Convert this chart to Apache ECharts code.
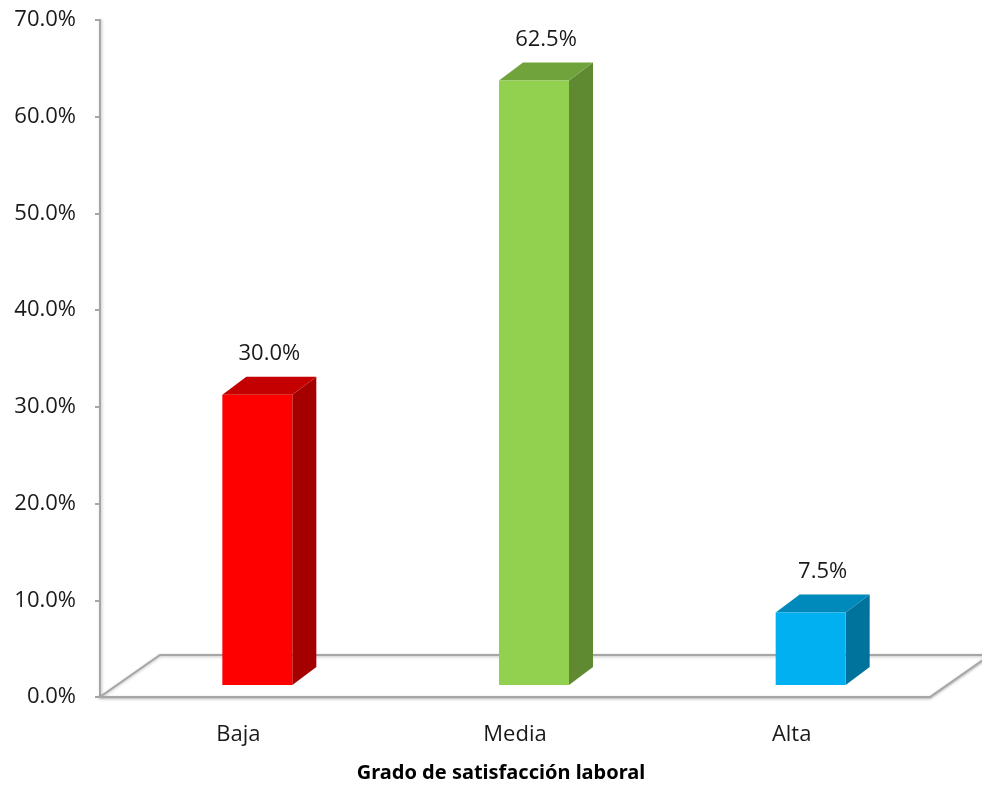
<!DOCTYPE html>
<html>
<head>
<meta charset="utf-8">
<script src="https://cdn.jsdelivr.net/npm/echarts@6/dist/echarts.min.js"></script>
<style>
  html, body { margin: 0; padding: 0; background: #fff; }
  #chart { width: 982px; height: 788px; }
</style>
</head>
<body>
<div id="chart"></div>
<script>
// datos
var categorias = ['Baja', 'Media', 'Alta'];
var valores = [30.0, 62.5, 7.5];
var ticksY = [0, 10, 20, 30, 40, 50, 60, 70];

// colores de cada barra: frente, lado, tapa
var colFrente = ['#ff0000', '#92d050', '#00b0f0'];
var colLado = ['#a50000', '#5f8a32', '#00739c'];
var colTapa = ['#c40000', '#70a33c', '#0089bb'];

var chart = echarts.init(document.getElementById('chart'));

var FONDO_DX = 60, FONDO_DY = -42;   // profundidad del piso
var BAR_DX = 24, BAR_DY = -18;       // profundidad de la barra
var OFF_X = 19, OFF_Y = -12;         // desplazamiento de la barra sobre el piso
var ANCHO = 70;

function piso(params, api) {
  var cs = params.coordSys;
  var x0 = cs.x, x1 = cs.x + cs.width, y0 = cs.y + cs.height;
  return {
    type: 'polygon',
    z2: 0,
    shape: { points: [[x0, y0], [x1, y0], [x1 + FONDO_DX, y0 + FONDO_DY], [x0 + FONDO_DX, y0 + FONDO_DY]] },
    style: { fill: '#fff', stroke: '#a6a6a6', lineWidth: 2, shadowBlur: 3, shadowColor: 'rgba(0,0,0,0.25)', shadowOffsetY: 1 }
  };
}

function barra3d(params, api) {
  var i = api.value(0);
  var v = api.value(1);
  var top = api.coord([i, v]);
  var base = api.coord([i, 0]);
  var xl = top[0] + OFF_X - ANCHO / 2;
  var xr = xl + ANCHO;
  var yt = top[1] + OFF_Y;
  var yb = base[1] + OFF_Y;
  return {
    type: 'group',
    children: [
      { type: 'polygon', shape: { points: [[xr, yt], [xr + BAR_DX, yt + BAR_DY], [xr + BAR_DX, yb + BAR_DY], [xr, yb]] },
        style: { fill: colLado[i] } },
      { type: 'polygon', shape: { points: [[xl, yt], [xl + BAR_DX, yt + BAR_DY], [xr + BAR_DX, yt + BAR_DY], [xr, yt]] },
        style: { fill: colTapa[i] } },
      { type: 'rect', shape: { x: xl, y: yt, width: ANCHO, height: yb - yt },
        style: { fill: colFrente[i] } },
      { type: 'text', x: xl + ANCHO / 2 + BAR_DX / 2, y: yt + BAR_DY - 23,
        style: { text: v.toFixed(1) + '%', fill: '#1a1a1a', font: '22px "Open Sans"', textAlign: 'center', textVerticalAlign: 'middle' } }
    ]
  };
}

chart.setOption({
  animation: false,
  grid: { left: 100, right: 52, top: 20, bottom: 91, outerBoundsMode: 'none', containLabel: false },
  xAxis: {
    type: 'category',
    data: categorias,
    name: 'Grado de satisfacción laboral',
    nameLocation: 'middle',
    nameGap: 66,
    nameTextStyle: { fontFamily: 'Noto Sans', fontWeight: 'bold', fontSize: 20, color: '#000', padding: [0, 28, 0, 0] },
    axisLine: { show: false },
    axisTick: { show: false },
    axisLabel: { fontFamily: 'Open Sans', fontSize: 22, color: '#1a1a1a', margin: 27 }
  },
  yAxis: {
    type: 'value',
    min: ticksY[0],
    max: ticksY[ticksY.length - 1],
    interval: 10,
    splitLine: { show: false },
    axisLine: { show: true, lineStyle: { color: '#a6a6a6', width: 2, shadowBlur: 3, shadowColor: 'rgba(0,0,0,0.25)', shadowOffsetX: 1 } },
    axisTick: { show: true, length: 5, lineStyle: { color: '#a6a6a6', width: 2 } },
    axisLabel: { fontFamily: 'Open Sans', fontSize: 22, color: '#1a1a1a', margin: 24,
      formatter: function (v) { return v.toFixed(1) + '%'; } }
  },
  series: [
    { type: 'custom', z: 1, data: [[0, 0]], renderItem: piso, silent: true },
    { type: 'custom', z: 2, data: valores.map(function (v, i) { return [i, v]; }), renderItem: barra3d }
  ]
});
</script>
</body>
</html>
